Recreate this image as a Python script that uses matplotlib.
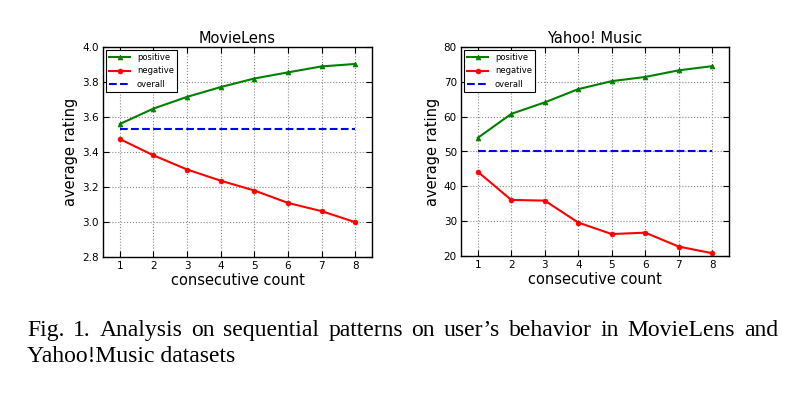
import matplotlib
matplotlib.use("Agg")
import matplotlib.pyplot as plt

counts = [1, 2, 3, 4, 5, 6, 7, 8]

ml_positive = [3.56, 3.648, 3.715, 3.771, 3.82, 3.855, 3.889, 3.903]
ml_negative = [3.474, 3.381, 3.30, 3.236, 3.18, 3.109, 3.062, 2.999]
ml_overall = 3.532

ym_positive = [53.9, 60.8, 64.1, 67.9, 70.2, 71.4, 73.3, 74.5]
ym_negative = [44.2, 36.1, 35.9, 29.6, 26.3, 26.7, 22.7, 20.8]
ym_overall = 50.1

titles = ["MovieLens", "Yahoo! Music"]
ml_yticks = [2.8, 3.0, 3.2, 3.4, 3.6, 3.8, 4.0]
ym_yticks = [20, 30, 40, 50, 60, 70, 80]

caption_line1 = "Fig. 1.  Analysis on sequential patterns on user\u2019s behavior in MovieLens and"
caption_line2 = "Yahoo!Music datasets"

plt.rcParams['font.family'] = ['DejaVu Sans']
fig = plt.figure(figsize=(8.0, 3.99), dpi=100)
fig.patch.set_facecolor('white')

W, H = 800, 399
def rect(x0, y0, x1, y1):
    return [x0 / W, 1 - y1 / H, (x1 - x0) / W, (y1 - y0) / H]

axes_specs = [
    (rect(103, 47, 372, 257), ml_positive, ml_negative, ml_overall, ml_yticks, "%.1f"),
    (rect(461, 47, 729, 256), ym_positive, ym_negative, ym_overall, ym_yticks, "%d"),
]

for (r, pos, neg, ov, yt, fmt), title in zip(axes_specs, titles):
    ax = fig.add_axes(r)
    ax.plot(counts, pos, color='#007f00', marker='^', markersize=3.5, lw=1.5,
            markeredgewidth=0.5, label='positive')
    ax.plot(counts, neg, color='#ff0000', marker='o', markersize=3.5, lw=1.5,
            markeredgewidth=0.5, label='negative')
    ax.plot([counts[0], counts[-1]], [ov, ov], color='#0000ff', ls='--', lw=1.5,
            label='overall')
    ax.set_xlim(0.5, 8.5)
    ax.set_ylim(yt[0], yt[-1])
    ax.set_yticks(yt)
    ax.set_yticklabels([fmt % v for v in yt])
    ax.set_xticks(counts)
    ax.grid(True, color='0.55', ls=':', lw=0.8)
    ax.tick_params(direction='in', top=True, right=True, labelsize=7.5, length=4, pad=3)
    for s in ax.spines.values():
        s.set_linewidth(1.0)
    ax.set_title(title, fontsize=10.5, pad=3)
    ax.set_xlabel("consecutive count", fontsize=10.5, labelpad=1)
    ax.set_ylabel("average rating", fontsize=10.5, labelpad=3)
    leg = ax.legend(loc='upper left', fontsize=6, borderaxespad=0.35, handlelength=2.5,
                    fancybox=False, framealpha=1, edgecolor='black', borderpad=0.4,
                    labelspacing=0.5)
    leg.get_frame().set_linewidth(0.8)

# Caption (justified first line)
cap_font = dict(family='Liberation Serif', fontsize=17, color='black')
x_left, x_right = 27, 778
base1, base2 = 336, 362
fig.canvas.draw()
renderer = fig.canvas.get_renderer()
words = caption_line1.split(' ')
texts = []
widths = []
for w in words:
    if w == '':
        continue
    t = fig.text(0, 1 - base1 / H, w, va='baseline', ha='left', **cap_font)
    bb = t.get_window_extent(renderer)
    texts.append(t)
    widths.append(bb.width)
n_gaps = len(texts) - 1
gap = (x_right - x_left - sum(widths)) / n_gaps
x = x_left
for t, wd in zip(texts, widths):
    t.set_x(x / W)
    x += wd + gap
fig.text(x_left / W, 1 - base2 / H, caption_line2, va='baseline', ha='left', **cap_font)

fig.savefig("out.png", dpi=100, facecolor='white')
